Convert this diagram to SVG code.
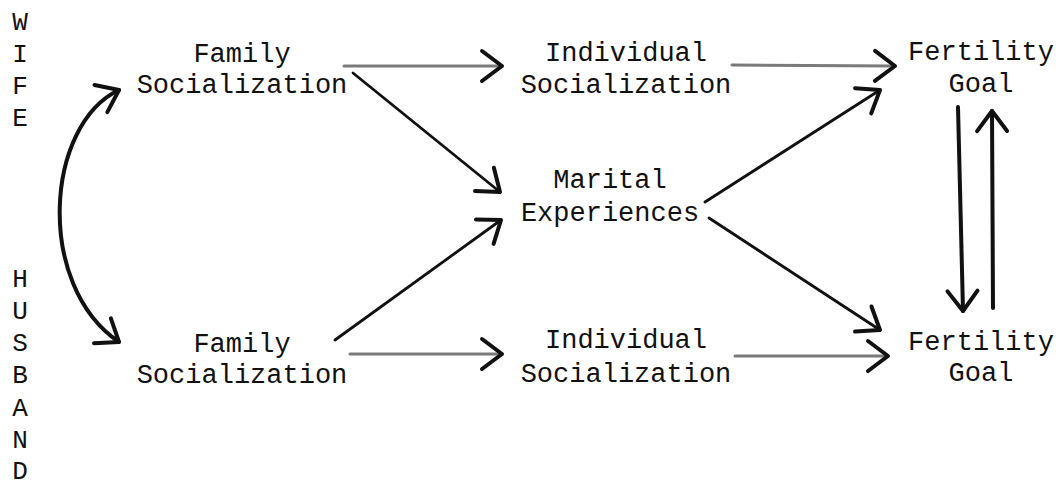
<svg xmlns="http://www.w3.org/2000/svg" width="1060" height="490" viewBox="0 0 1060 490">
<style>
text{font-family:"Liberation Mono","Courier New",monospace;font-size:27px;fill:#111;text-anchor:middle}
.side{font-size:26px}
.blk{fill:none;stroke:#111;stroke-width:2.8;stroke-linecap:round}
.thick{fill:none;stroke:#111;stroke-width:4;stroke-linecap:round}
.gray{fill:none;stroke:#7a7a7a;stroke-width:3;stroke-linecap:round}
</style>
<defs>
<marker id="ah" markerUnits="userSpaceOnUse" markerWidth="40" markerHeight="40" viewBox="-30 -20 40 40" refX="0" refY="0" orient="auto" overflow="visible">
<path d="M -20 -15 L 0 0 L -20 15" fill="none" stroke="#111" stroke-width="4" stroke-linecap="round" stroke-linejoin="round"/>
</marker>
</defs>
<rect width="1060" height="490" fill="#ffffff"/>
<g id="side-labels">
<text class="side" x="20" y="30">W</text>
<text class="side" x="20" y="62">I</text>
<text class="side" x="20" y="94">F</text>
<text class="side" x="20" y="126">E</text>
<text class="side" x="20" y="287">H</text>
<text class="side" x="20" y="319">U</text>
<text class="side" x="20" y="351">S</text>
<text class="side" x="20" y="383">B</text>
<text class="side" x="20" y="416">A</text>
<text class="side" x="20" y="448">N</text>
<text class="side" x="20" y="479">D</text>
</g>
<g id="wife-family">
<text x="242" y="62">Family</text>
<text x="242" y="93">Socialization</text>
</g>
<g id="husband-family">
<text x="242" y="352">Family</text>
<text x="242" y="383">Socialization</text>
</g>
<g id="wife-individual">
<text x="626" y="61">Individual</text>
<text x="626" y="93">Socialization</text>
</g>
<g id="marital">
<text x="610" y="188">Marital</text>
<text x="610" y="221">Experiences</text>
</g>
<g id="husband-individual">
<text x="626" y="348">Individual</text>
<text x="626" y="382">Socialization</text>
</g>
<g id="wife-goal">
<text x="981" y="60">Fertility</text>
<text x="981" y="92">Goal</text>
</g>
<g id="husband-goal">
<text x="981" y="350">Fertility</text>
<text x="981" y="381">Goal</text>
</g>
<g id="connectors">
<path class="gray" d="M 344 66 L 502 66" marker-end="url(#ah)"/>
<path class="gray" d="M 732 65 L 895 66" marker-end="url(#ah)"/>
<path class="gray" d="M 350 354 L 502 354" marker-end="url(#ah)"/>
<path class="gray" d="M 735 356 L 888 356" marker-end="url(#ah)"/>
<path class="blk" d="M 353 73 L 500 192" marker-end="url(#ah)"/>
<path class="blk" d="M 335 340 L 501 220" marker-end="url(#ah)"/>
<path class="blk" d="M 705 202 L 880 90" marker-end="url(#ah)"/>
<path class="blk" d="M 709 218 L 880 330" marker-end="url(#ah)"/>
<path class="thick" d="M 958 107 L 963 311" marker-end="url(#ah)"/>
<path class="thick" d="M 993 308 L 992 111" marker-end="url(#ah)"/>
<path class="thick" d="M 119 90 C 45 125, 35 285, 119 342" marker-start="url(#ahs)" marker-end="url(#ah)"/>
</g>
<defs>
<marker id="ahs" markerUnits="userSpaceOnUse" markerWidth="40" markerHeight="40" viewBox="-30 -20 40 40" refX="0" refY="0" orient="auto-start-reverse" overflow="visible">
<path d="M -20 -15 L 0 0 L -20 15" fill="none" stroke="#111" stroke-width="4" stroke-linecap="round" stroke-linejoin="round"/>
</marker>
</defs>
</svg>
